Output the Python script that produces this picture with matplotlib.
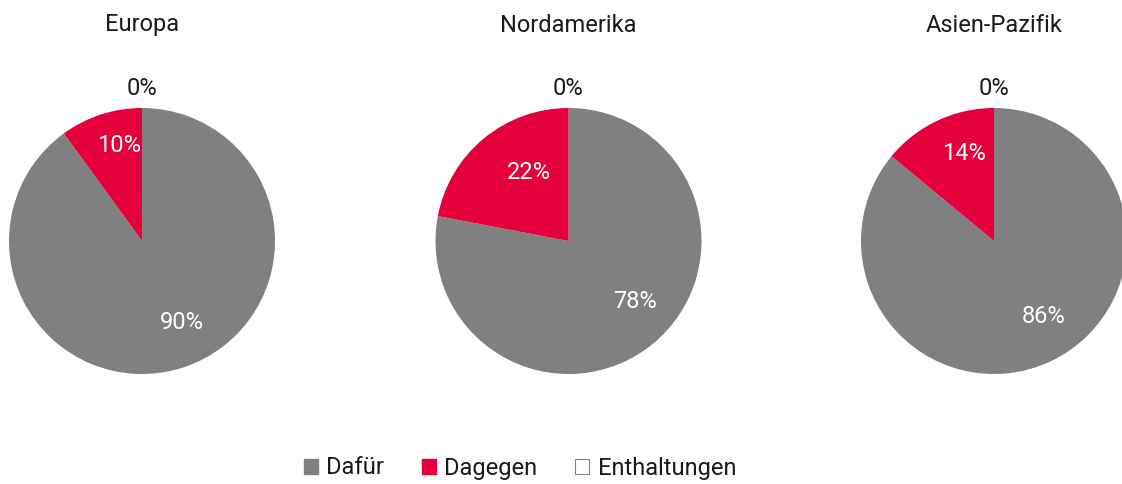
import numpy as np
import matplotlib
matplotlib.use("Agg")
import matplotlib.pyplot as plt
from matplotlib.patches import Patch

plt.rcParams['font.family'] = ['Roboto', 'DejaVu Sans']

regions = ["Europa", "Nordamerika", "Asien-Pazifik"]
categories = ["Dafür", "Dagegen", "Enthaltungen"]
dafuer = [90, 78, 86]
dagegen = [10, 22, 14]
enthaltungen = [0, 0, 0]

colors = ["#808080", "#E4003A", "#FFFFFF"]
W, H = 1122, 484
fig = plt.figure(figsize=(W / 100, H / 100), dpi=100)

centers_px = [(142, 241), (568.5, 241), (994, 241)]
r_px = 133
fs = 17

for i, region in enumerate(regions):
    cx, cy = centers_px[i]
    ax = fig.add_axes([(cx - r_px) / W, (H - cy - r_px) / H, 2 * r_px / W, 2 * r_px / H])
    vals = [dafuer[i], dagegen[i], enthaltungen[i]]
    wedges, _ = ax.pie(vals, colors=colors, startangle=90, counterclock=False,
                       radius=1, wedgeprops=dict(linewidth=0))
    ax.set_xlim(-1, 1)
    ax.set_ylim(-1, 1)
    ax.set_aspect('equal')
    ax.axis('off')
    for k, (w, v) in enumerate(zip(wedges, vals)):
        mid = (w.theta1 + w.theta2) / 2
        mid = ((mid + 180) % 360) - 180
        if v == 0:
            d, col = 1.15, "#1a1a1a"
        elif k == 0:
            mid += 8
            d, col = 0.68, "white"
        else:
            mid -= (mid - 90) * 0.25
            d, col = 0.74 - (v - 10) * 0.012, "white"
        ang = np.deg2rad(mid)
        ax.text(d * np.cos(ang), d * np.sin(ang), f"{v}%", ha='center', va='center',
                fontsize=fs, color=col, clip_on=False)
    fig.text(cx / W, 1 - 25 / H, region, ha='center', va='center', fontsize=fs, color="#1a1a1a")

handles = [Patch(facecolor=colors[0], edgecolor=colors[0]),
           Patch(facecolor=colors[1], edgecolor=colors[1]),
           Patch(facecolor=colors[2], edgecolor="#808080", linewidth=0.8)]
fig.legend(handles, categories, loc='center', bbox_to_anchor=(520 / W, 1 - 468 / H),
           ncol=3, frameon=False, fontsize=fs, handlelength=0.6, handleheight=0.6,
           handletextpad=0.35, columnspacing=1.6, labelcolor="#1a1a1a")

fig.savefig("out.png", dpi=100)
